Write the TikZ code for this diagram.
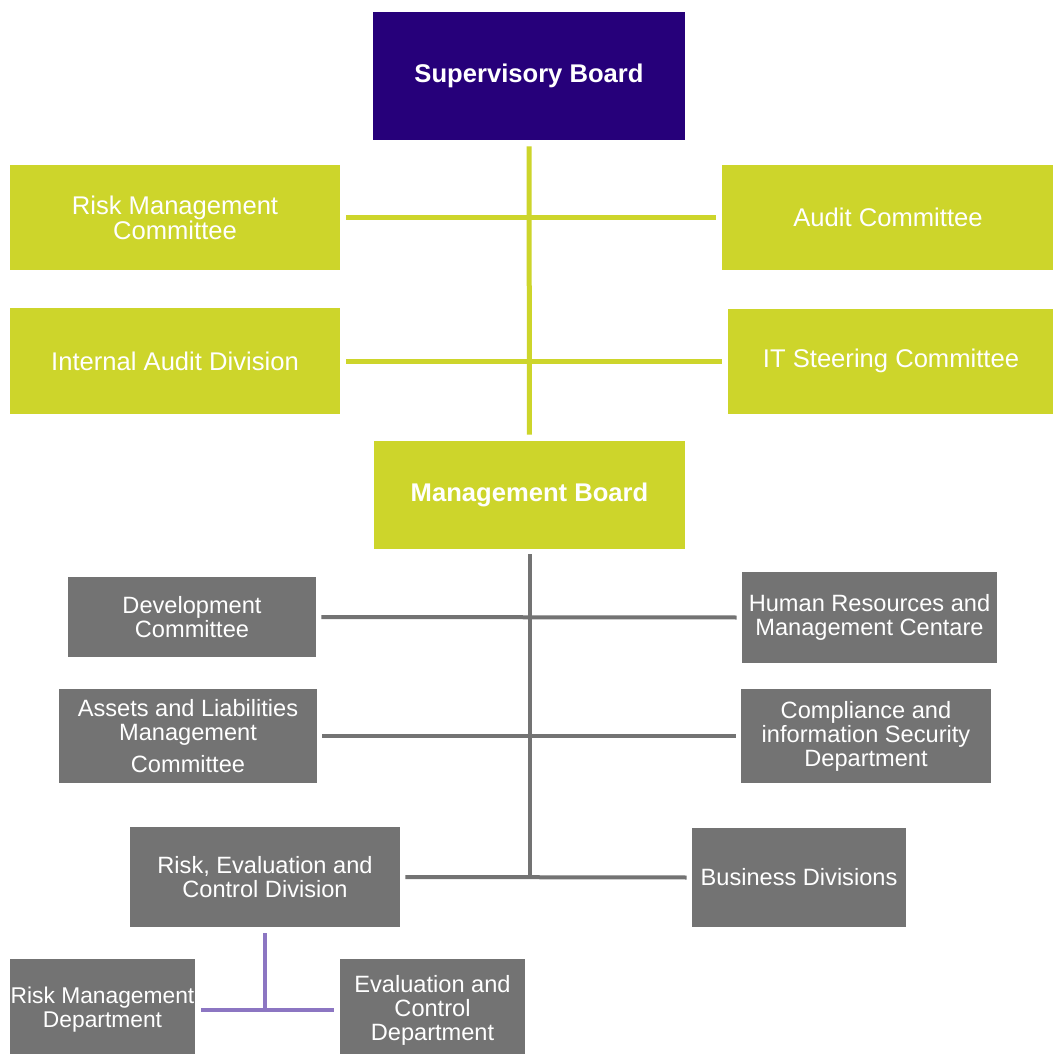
\documentclass[tikz,border=0pt]{standalone}
\usepackage{fontspec}
\setmainfont{Liberation Sans}
\definecolor{boardpurple}{HTML}{26007A}
\definecolor{limegreen}{HTML}{CDD52B}
\definecolor{boxgray}{HTML}{737373}
\definecolor{linepurple}{HTML}{8C76C2}
\tikzset{
  boardbox/.style={rectangle, fill=boardpurple, text=white, font=\fontsize{12.8}{14}\selectfont\bfseries, align=center, inner sep=0pt},
  greenbox/.style={rectangle, fill=limegreen, text=white, font=\fontsize{12.8}{12.6}\selectfont, align=center, inner sep=0pt},
  mgmtbox/.style={greenbox, font=\fontsize{12.8}{14}\selectfont\bfseries},
  graybox/.style={rectangle, fill=boxgray, text=white, font=\fontsize{11.8}{12}\selectfont, align=center, inner sep=0pt},
  greenline/.style={draw=limegreen, line width=2.5pt, shorten <=3pt, shorten >=3pt},
  grayline/.style={draw=boxgray, line width=2pt, shorten <=2.5pt, shorten >=2.5pt},
  purpleline/.style={draw=linepurple, line width=2pt, shorten <=3pt, shorten >=3pt}
}
\begin{document}
\begin{tikzpicture}[x=0.5pt, y=-0.5pt]
  \useasboundingbox[fill=white] (0,0) rectangle (1053,1054);
  % Boards and committees
  \node[boardbox, minimum width=156pt, minimum height=64pt] (sb) at (529,76) {Supervisory Board};
  \node[greenbox, minimum width=165pt, minimum height=52.5pt] (rmc) at (175,217.5) {Risk Management\\Committee};
  \node[greenbox, minimum width=166pt, minimum height=52.5pt] (ac) at (888,217.5) {Audit Committee};
  \node[greenbox, minimum width=165pt, minimum height=53pt] (iad) at (175,361) {Internal Audit Division};
  \node[greenbox, minimum width=163pt, minimum height=52.5pt] (itsc) at (891,361) {IT Steering Committee};
  \node[mgmtbox, minimum width=155.5pt, minimum height=54pt] (mb) at (529.5,495) {Management Board};
  % Committees and departments
  \node[graybox, minimum width=124pt, minimum height=40pt] (dc) at (192,617) {Development\\Committee};
  \node[graybox, minimum width=127.5pt, minimum height=45.5pt] (hr) at (869.5,617.5) {Human Resources and\\Management Centare};
  \node[graybox, minimum width=129pt, minimum height=47pt] (alc) at (188,736) {Assets and Liabilities\\Management\\[4pt]Committee};
  \node[graybox, minimum width=125pt, minimum height=47pt] (cisd) at (866,736) {Compliance and\\information Security\\Department};
  \node[graybox, minimum width=135pt, minimum height=50pt] (redc) at (265,877) {Risk, Evaluation and\\Control Division};
  \node[graybox, minimum width=107pt, minimum height=49.5pt] (bd) at (799,877.5) {Business Divisions};
  \node[graybox, minimum width=92.5pt, minimum height=51pt, font=\fontsize{11.4}{12}\selectfont] (rmd) at (102.5,1010) {Risk Management\\Department};
  \node[graybox, minimum width=92.5pt, minimum height=51pt] (ecd) at (432.5,1010) {Evaluation and\\Control\\Department};
  % Green connectors
  \draw[greenline] (sb.south) -- (mb.north);
  \draw[greenline] (rmc.east) -- (ac.west);
  \draw[greenline] (iad.east) -- (itsc.west);
  % Gray connectors
  \coordinate (trunk) at (mb.south |- redc.east);
  \draw[grayline, shorten >=0pt] (mb.south) -- (trunk);
  \draw[grayline] (dc.east) -- (hr.west);
  \draw[grayline] (alc.east) -- (cisd.west);
  \draw[grayline] (redc.east) -- (bd.west);
  % Purple connectors
  \coordinate (split) at (redc.south |- rmd.east);
  \draw[purpleline, shorten >=0pt] (redc.south) -- (split);
  \draw[purpleline] (rmd.east) -- (ecd.west);
\end{tikzpicture}
\end{document}
